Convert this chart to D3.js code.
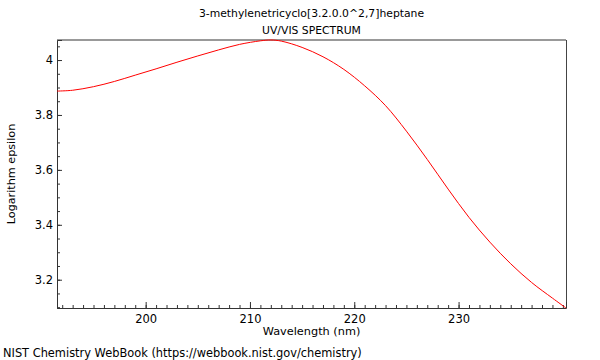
<!DOCTYPE html>
<html>
<head>
<meta charset="utf-8">
<script src="https://cdn.jsdelivr.net/npm/d3@7"></script>
<style>
  body { margin: 0; background: #fff; }
  text { font-family: "DejaVu Sans", sans-serif; font-size: 11px; fill: #000; }
</style>
</head>
<body>
<svg id="chart"></svg>
<script>
// spectrum
const wavelength = [191.5, 193, 195, 197, 199, 201, 203, 205, 207, 209, 211, 212, 213, 215, 217, 219, 221, 223, 225, 227, 229, 231, 233, 235, 237, 239, 240.3]
const logEps = [3.887, 3.890, 3.903, 3.922, 3.945, 3.968, 3.992, 4.015, 4.037, 4.057, 4.070, 4.073, 4.069, 4.046, 4.012, 3.966, 3.906, 3.834, 3.741, 3.638, 3.530, 3.427, 3.337, 3.258, 3.190, 3.133, 3.097]
const xTicks = [200, 210, 220, 230]
const yTicks = [3.2, 3.4, 3.6, 3.8, 4]
const titleLines = ['3-methylenetricyclo[3.2.0.0^2,7]heptane', 'UV/VIS SPECTRUM']

const W = 600, H = 360
const mLeft = 57, mRight = 566, mTop = 40, mBottom = 308

const svg = d3.select('#chart').attr('width', W).attr('height', H)

const x = d3.scaleLinear().domain([191.5, 240.3]).range([mLeft, mRight])
const y = d3.scaleLinear().domain([3.097, 4.073]).range([mBottom, mTop])

// frame
svg.append('line').attr('x1', mLeft).attr('x2', mRight).attr('y1', mTop).attr('y2', mTop)
    .attr('stroke', '#999').attr('stroke-width', 2)
svg.append('line').attr('x1', mRight + 0.5).attr('x2', mRight + 0.5).attr('y1', mTop).attr('y2', mBottom)
    .attr('stroke', '#444')

// x axis, ticks point inwards
const xMinor = d3.range(192, 241, 1)
svg.append('g').attr('transform', `translate(0,${mBottom})`)
    .call(d3.axisTop(x).tickValues(xMinor).tickSize(3).tickFormat(''))
    .call(g => g.select('.domain').remove())
    .selectAll('line').attr('stroke', '#333')
const xa = svg.append('g').attr('transform', `translate(0,${mBottom})`)
    .call(d3.axisTop(x).tickValues(xTicks).tickSize(6).tickFormat(d3.format('d')))
xa.select('.domain').attr('stroke', '#333')
xa.selectAll('line').attr('stroke', '#333')
xa.selectAll('text').attr('y', 15).attr('dy', 0).style('font-size', '11.5px')

// y axis
const yMinor = d3.range(3.1, 4.07, 0.05)
svg.append('g').attr('transform', `translate(${mLeft},0)`)
    .call(d3.axisRight(y).tickValues(yMinor).tickSize(3).tickFormat(''))
    .call(g => g.select('.domain').remove())
    .selectAll('line').attr('stroke', '#333')
const ya = svg.append('g').attr('transform', `translate(${mLeft},0)`)
    .call(d3.axisRight(y).tickValues(yTicks).tickSize(5).tickFormat(d => d3.format('')(d)))
ya.select('.domain').attr('stroke', '#333')
ya.selectAll('line').attr('stroke', '#333')
ya.selectAll('text').attr('x', -4).attr('text-anchor', 'end').style('font-size', '11.5px')

// spectrum line
const pts = wavelength.map((w, i) => [w, logEps[i]])
svg.append('path').datum(pts)
    .attr('d', d3.line().x(d => x(d[0])).y(d => y(d[1])).curve(d3.curveCatmullRom.alpha(0.5)))
    .attr('fill', 'none').attr('stroke', '#ff0000').attr('stroke-width', 1)

// titles and labels
svg.selectAll('.title').data(titleLines).join('text')
    .attr('x', (mLeft + mRight) / 2).attr('y', (d, i) => 17 + i * 17)
    .attr('text-anchor', 'middle').style('font-size', '10.8px').text(d => d)
svg.append('text').attr('x', (mLeft + mRight) / 2).attr('y', 335)
    .attr('text-anchor', 'middle').style('font-size', '11.3px').text('Wavelength (nm)')
svg.append('text').attr('transform', `translate(15,${(mTop + mBottom) / 2}) rotate(-90)`)
    .attr('text-anchor', 'middle').style('font-size', '11.2px').text('Logarithm epsilon')
svg.append('text').attr('x', 3).attr('y', 357).style('font-size', '11.4px')
    .text('NIST Chemistry WebBook (https://webbook.nist.gov/chemistry)')
</script>
</body>
</html>
